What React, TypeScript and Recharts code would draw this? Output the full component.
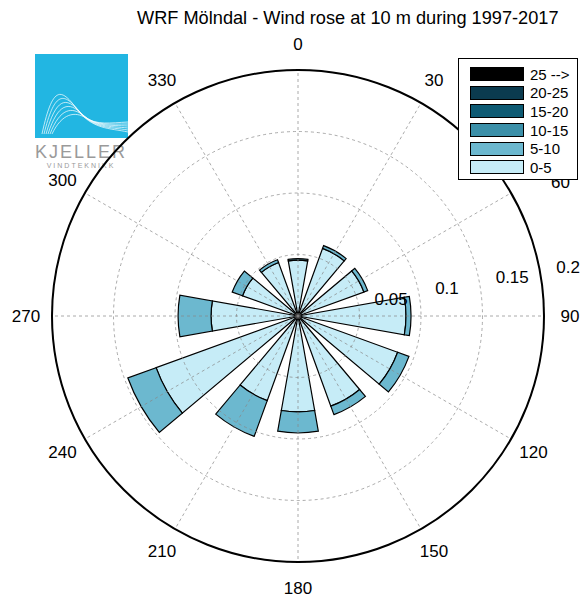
import React from "react";
import { RadialBarChart, RadialBar, PolarGrid, PolarAngleAxis, PolarRadiusAxis, Legend } from "recharts";

// wind directions (deg) and frequency per speed bin
const directions = ["0", "30", "60", "90", "120", "150", "180", "210", "240", "270", "300", "330"];
const speed0to5 = [0.0455, 0.0585, 0.057, 0.0878, 0.0862, 0.078, 0.078, 0.0732, 0.1228, 0.0707, 0.048, 0.0463];
const speed5to10 = [0.0012, 0.0024, 0.0033, 0.0041, 0.0098, 0.0073, 0.0171, 0.0309, 0.0244, 0.0268, 0.0089, 0.0024];

const radiusTicks = [0, 0.05, 0.1, 0.15, 0.2];
const legendLabels = ["25 -->", "20-25", "15-20", "10-15", "5-10", "0-5"];
const legendColors = ["#000000", "#0b3b4f", "#0d5a73", "#3b8fa8", "#6cb8cf", "#c6ecf7"];

const FONT = "'Liberation Sans', Arial, sans-serif";
const CX = 298;
const CY = 316;
const R = 246;

interface Row {
  dir: string;
  s0: number;
  s1: number;
}

const rows: Row[] = directions.map((d, i) => ({ dir: d, s0: speed0to5[i], s1: speed5to10[i] }));
// spokes through the compass directions (math angles)
const spokeAngles = directions.map((d) => 90 - Number(d));

const AngleTick = (props: any) => {
  const { x, y, payload } = props;
  const cx = props.cx ?? CX;
  const cy = props.cy ?? CY;
  // ticks sit on band edges, move them to the band centre
  const a = Math.atan2(cy - y, x - cx) + (15 * Math.PI) / 180;
  const r = R + 26;
  let tx = cx + r * Math.cos(a);
  let ty = cy - r * Math.sin(a);
  // label that would hide under the legend box
  if (tx > 450 && ty < 182) {
    tx += 27;
    ty = 182;
  }
  return (
    <text x={tx} y={ty} textAnchor="middle" dominantBaseline="central" fontSize={17} fontFamily={FONT} fill="#000">
      {payload.value}
    </text>
  );
};

const RadiusTick = (props: any) => {
  const { x, y, payload } = props;
  if (payload.value === 0) return <g />;
  const cx = props.cx ?? CX;
  const cy = props.cy ?? CY;
  const r = typeof payload.coordinate === "number" ? payload.coordinate : Math.hypot(x - cx, y - cy);
  const a = (10 * Math.PI) / 180;
  return (
    <text
      x={cx + r * Math.cos(a) + 16}
      y={cy - r * Math.sin(a) - 6}
      textAnchor="start"
      dominantBaseline="central"
      fontSize={17}
      fontFamily={FONT}
      fill="#000"
    >
      {payload.value}
    </text>
  );
};

const LegendBox = () => (
  <div style={{ width: 118, border: "1px solid #000", background: "#fff", padding: "6px 0 2px 0", fontFamily: FONT }}>
    {legendLabels.map((l, i) => (
      <div key={l} style={{ display: "flex", alignItems: "center", height: 18.6, paddingLeft: 11 }}>
        <div style={{ width: 52, height: 12, background: legendColors[i], border: "1px solid #000", marginRight: 6 }} />
        <span style={{ fontSize: 15 }}>{l}</span>
      </div>
    ))}
  </div>
);

const Logo = () => (
  <svg width={100} height={130} style={{ position: "absolute", left: 30, top: 48 }}>
    <rect x={5} y={6} width={93} height={84} fill="#22b6e2" />
    {[0, 1, 2, 3, 4, 5].map((k) => (
      <path
        key={k}
        d={`M ${12 + k * 2} 86 C ${22 + k * 2} ${40 + k * 5}, ${30 + k * 3} ${38 + k * 5}, ${46 + k * 2} ${60 + k * 2} S ${80} ${80 - k}, 98 ${84 - k * 2}`}
        fill="none"
        stroke="#fff"
        strokeWidth={0.7}
      />
    ))}
    <text x={51} y={110} textAnchor="middle" fontSize={18} letterSpacing={2} fontFamily={FONT} fill="#9a9a9a">
      KJELLER
    </text>
    <text x={51} y={120} textAnchor="middle" fontSize={7} letterSpacing={2} fontFamily={FONT} fill="#9a9a9a">
      VINDTEKNIKK
    </text>
  </svg>
);

export default function App() {
  return (
    <div style={{ position: "absolute", left: 0, top: 0, width: 583, height: 596, background: "#fff", fontFamily: FONT }}>
      <div style={{ position: "absolute", left: 137, top: 8, fontSize: 18.2, whiteSpace: "nowrap" }}>
        WRF Mölndal - Wind rose at 10 m during 1997-2017
      </div>
      <Logo />
      <RadialBarChart
        width={583}
        height={596}
        data={rows}
        cx={CX}
        cy={CY}
        innerRadius={0}
        outerRadius={R}
        startAngle={75}
        endAngle={-285}
        layout="centric"
        barCategoryGap="16.67%"
        style={{ position: "absolute", left: 0, top: 0 }}
      >
        <PolarAngleAxis
          dataKey="dir"
          type="category"
          axisLineType="circle"
          axisLine={{ stroke: "#000", strokeWidth: 2 }}
          tickLine={false}
          tickSize={25}
          tick={<AngleTick />}
        />
        <PolarRadiusAxis
          type="number"
          domain={[0, 0.2]}
          ticks={radiusTicks}
          angle={10}
          axisLine={false}
          tickLine={false}
          tick={<RadiusTick />}
        />
        <RadialBar dataKey="s0" stackId="a" fill={legendColors[5]} stroke="#000" strokeWidth={1.2} isAnimationActive={false} />
        <RadialBar dataKey="s1" stackId="a" fill={legendColors[4]} stroke="#000" strokeWidth={1.2} isAnimationActive={false} />
        <PolarGrid
          gridType="circle"
          polarAngles={spokeAngles}
          stroke="#888"
          strokeOpacity={0.7}
          strokeDasharray="3 3"
          {...({ zIndex: 450 } as any)}
        />
        <Legend
          layout="vertical"
          verticalAlign="top"
          align="right"
          content={<LegendBox />}
          wrapperStyle={{ position: "absolute", left: 458, top: 58, width: 120 }}
        />
      </RadialBarChart>
    </div>
  );
}
